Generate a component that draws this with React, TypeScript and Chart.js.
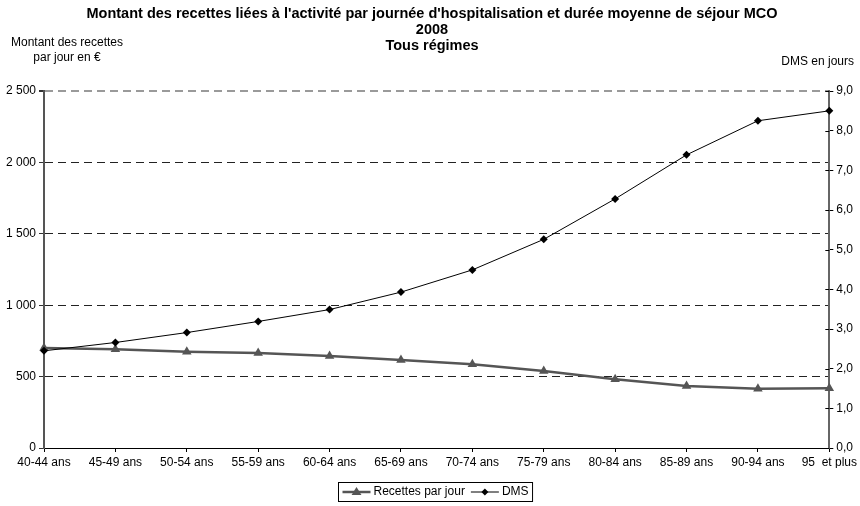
import React, { useEffect, useRef } from "react";
import { Chart, registerables } from "chart.js";

Chart.register(...registerables);

const categories = [
  "40-44 ans", "45-49 ans", "50-54 ans", "55-59 ans", "60-64 ans", "65-69 ans",
  "70-74 ans", "75-79 ans", "80-84 ans", "85-89 ans", "90-94 ans", "95  et plus",
];
const recettesParJour = [700, 691, 674, 665, 644, 616, 586, 539, 481, 434, 415, 418];
const dms = [2.45, 2.66, 2.91, 3.19, 3.49, 3.93, 4.49, 5.26, 6.28, 7.39, 8.25, 8.5];
const titleLines = [
  "Montant des recettes liées à l'activité par journée d'hospitalisation et durée moyenne de séjour MCO",
  "2008",
  "Tous régimes",
];
const leftAxisTitle = ["Montant des recettes", "par jour en €"];
const rightAxisTitle = "DMS en jours";
const seriesNames = ["Recettes par jour", "DMS"];

const FONT = '"Liberation Sans", Arial, sans-serif';

function drawTriangle(ctx: CanvasRenderingContext2D, x: number, y: number, r: number) {
  ctx.beginPath();
  ctx.moveTo(x, y - r);
  ctx.lineTo(x + r * 1.1, y + r * 0.75);
  ctx.lineTo(x - r * 1.1, y + r * 0.75);
  ctx.closePath();
  ctx.fill();
}
function drawDiamond(ctx: CanvasRenderingContext2D, x: number, y: number, r: number) {
  ctx.beginPath();
  ctx.moveTo(x, y - r);
  ctx.lineTo(x + r, y);
  ctx.lineTo(x, y + r);
  ctx.lineTo(x - r, y);
  ctx.closePath();
  ctx.fill();
}

const textPlugin = {
  id: "customTexts",
  afterDraw(chart: any) {
    const ctx: CanvasRenderingContext2D = chart.ctx;
    ctx.save();
    // inward tick marks of the right axis
    const y1 = chart.scales.y1;
    ctx.strokeStyle = "#000";
    ctx.lineWidth = 1;
    y1.ticks.forEach((t: any) => {
      const py = Math.round(y1.getPixelForValue(t.value)) + 0.5;
      ctx.beginPath();
      ctx.moveTo(y1.left - 4, py);
      ctx.lineTo(y1.left, py);
      ctx.stroke();
    });

    ctx.fillStyle = "#000";
    ctx.textAlign = "center";
    ctx.textBaseline = "middle";
    ctx.font = `bold 14.5px ${FONT}`;
    titleLines.forEach((t, i) => ctx.fillText(t, 432, 14 + i * 16));
    ctx.font = `12px ${FONT}`;
    leftAxisTitle.forEach((t, i) => ctx.fillText(t, 67, 43 + i * 15));
    ctx.textAlign = "right";
    ctx.fillText(rightAxisTitle, 854, 62);

    // legend
    const sample = 28;
    const w1 = ctx.measureText(seriesNames[0]).width;
    const w2 = ctx.measureText(seriesNames[1]).width;
    const pad = 4;
    const total = pad + sample + 3 + w1 + 6 + sample + 3 + w2 + pad;
    const left = Math.round(435.5 - total / 2) + 0.5;
    const top = 482.5;
    const h = 19;
    const cy = top + h / 2;
    ctx.strokeStyle = "#000";
    ctx.lineWidth = 1;
    ctx.strokeRect(left, top, total, h);
    let x = left + pad;
    const ds = chart.data.datasets;
    ctx.strokeStyle = ds[0].borderColor;
    ctx.lineWidth = ds[0].borderWidth;
    ctx.beginPath();
    ctx.moveTo(x, cy);
    ctx.lineTo(x + sample, cy);
    ctx.stroke();
    ctx.fillStyle = ds[0].pointBackgroundColor;
    drawTriangle(ctx, x + sample / 2, cy - 0.5, 4.5);
    x += sample + 3;
    ctx.fillStyle = "#000";
    ctx.textAlign = "left";
    ctx.fillText(seriesNames[0], x, cy);
    x += w1 + 6;
    ctx.strokeStyle = ds[1].borderColor;
    ctx.lineWidth = ds[1].borderWidth;
    ctx.beginPath();
    ctx.moveTo(x, cy);
    ctx.lineTo(x + sample, cy);
    ctx.stroke();
    ctx.fillStyle = ds[1].pointBackgroundColor;
    drawDiamond(ctx, x + sample / 2, cy, 3.5);
    x += sample + 3;
    ctx.fillStyle = "#000";
    ctx.fillText(seriesNames[1], x, cy);
    ctx.restore();
  },
};

export default function App() {
  const ref = useRef<HTMLCanvasElement>(null);
  useEffect(() => {
    document.body.style.margin = "0";
    if (!ref.current) return;
    const chart = new Chart(ref.current, {
      type: "line",
      data: {
        labels: categories,
        datasets: [
          {
            label: seriesNames[0],
            data: recettesParJour,
            yAxisID: "y",
            borderColor: "#555555",
            borderWidth: 2.5,
            pointStyle: "triangle",
            pointRadius: 5.5,
            pointBackgroundColor: "#555555",
            pointBorderColor: "#555555",
            pointBorderWidth: 0,
            tension: 0,
            clip: false as any,
            order: 2,
          },
          {
            label: seriesNames[1],
            data: dms,
            yAxisID: "y1",
            borderColor: "#000000",
            borderWidth: 1,
            pointStyle: "rectRot",
            pointRadius: 4,
            pointBackgroundColor: "#000000",
            pointBorderColor: "#000000",
            pointBorderWidth: 0,
            tension: 0,
            clip: false as any,
            order: 1,
          },
        ],
      },
      options: {
        animation: false,
        responsive: false,
        layout: { padding: { top: 91, bottom: 38, left: 0, right: 0 } },
        plugins: {
          legend: { display: false },
          title: { display: false },
          tooltip: { enabled: false },
        },
        scales: {
          x: {
            offset: false,
            afterFit: (s: any) => {
              s.height = 20;
            },
            grid: {
              drawOnChartArea: false,
              drawTicks: true,
              tickLength: 4,
              color: "#000",
            },
            border: { color: "#000", width: 1 },
            ticks: {
              color: "#000",
              font: { family: FONT, size: 12 },
              padding: 3,
              maxRotation: 0,
              autoSkip: false,
            },
          },
          y: {
            position: "left",
            min: 0,
            max: 2500,
            afterFit: (s: any) => {
              s.width = 44;
            },
            grid: {
              color: (c: any) => (c.tick && c.tick.value === 2500 ? "#9a9a9a" : "#222"),
              lineWidth: (c: any) => (c.tick && c.tick.value === 2500 ? 2 : 1),
              tickColor: "#333",
              tickLength: 5,
              drawTicks: true,
            },
            border: { color: "#555", width: 2, dash: [8, 5] },
            ticks: {
              stepSize: 500,
              color: "#000",
              font: { family: FONT, size: 12 },
              padding: 3,
              callback: (v: any) => String(v).replace(/\B(?=(\d{3})+(?!\d))/g, " "),
            },
          },
          y1: {
            position: "right",
            min: 0,
            max: 9,
            afterFit: (s: any) => {
              s.width = 30;
            },
            grid: {
              drawOnChartArea: false,
              drawTicks: true,
              tickLength: 4,
              color: "#000",
            },
            border: { color: "#666", width: 2 },
            ticks: {
              stepSize: 1,
              color: "#000",
              font: { family: FONT, size: 12 },
              padding: 3,
              callback: (v: any) => Number(v).toFixed(1).replace(".", ","),
            },
          },
        },
      } as any,
      plugins: [textPlugin],
    });
    return () => chart.destroy();
  }, []);
  return (
    <div style={{ position: "absolute", left: 0, top: 0, width: 860, height: 506 }}>
      <canvas ref={ref} width={860} height={506} />
    </div>
  );
}
